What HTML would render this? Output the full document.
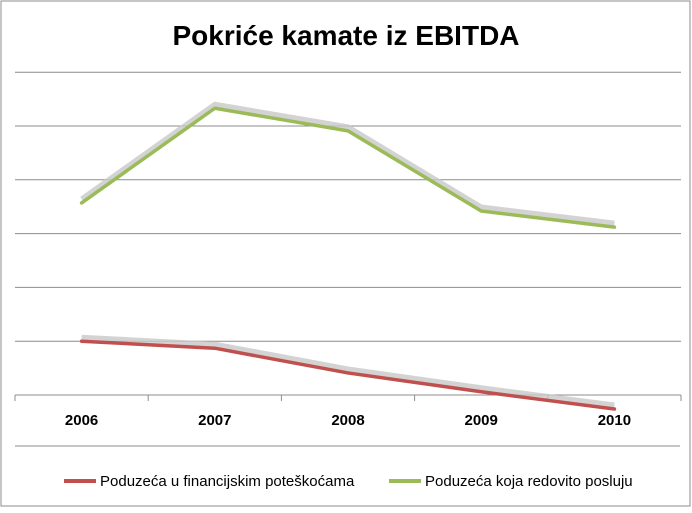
<!DOCTYPE html>
<html><head><meta charset="utf-8"><style>
body{margin:0;background:#fff}
svg text{font-family:"Liberation Sans Narrow","Liberation Sans",sans-serif}
</style></head><body>
<svg id="c" width="692" height="508" xmlns="http://www.w3.org/2000/svg">
<rect x="1" y="1" width="689" height="505" fill="#fff" stroke="#8c8c8c"/>
<text x="346" y="45" text-anchor="middle" font-size="28" font-weight="bold" fill="#000">Pokriće kamate iz EBITDA</text>
<g id="grid"></g><g id="series"></g><g id="xlabels"></g>
<line x1="15" y1="446" x2="680" y2="446" stroke="#8c8c8c"/>
<g><line x1="64" y1="481" x2="96" y2="481" stroke="#c0504d" stroke-width="4"/><text x="100" y="486" font-size="15" fill="#000">Poduzeća u financijskim poteškoćama</text></g>
<g><line x1="389" y1="481" x2="421" y2="481" stroke="#9bbb59" stroke-width="4"/><text x="425" y="486" font-size="15" fill="#000">Poduzeća koja redovito posluju</text></g>
</svg>
<script>
const categories=["2006","2007","2008","2009","2010"];
const troubled=[1.0,0.87,0.41,0.06,-0.26];
const regular=[3.57,5.33,4.91,3.42,3.12];
const gridTicks=[1,2,3,4,5,6];
const NS="http://www.w3.org/2000/svg";
const x0=15,x1=681,yZero=395,unit=53.8;
const bw=(x1-x0)/categories.length;
const xs=i=>x0+bw*(i+0.5);
const ys=v=>yZero-v*unit;
function mk(t,a,p){const e=document.createElementNS(NS,t);for(const k in a)e.setAttribute(k,a[k]);p.appendChild(e);return e;}
const g=document.getElementById('grid');
gridTicks.forEach(t=>{const l=mk('line',{x1:x0,x2:x1,y1:ys(t),y2:ys(t),stroke:'#8c8c8c'},g);

});
const ax=mk('line',{x1:x0,x2:x1,y1:yZero,y2:yZero,stroke:'#8c8c8c'},g);


for(let i=0;i<=categories.length;i++){const tk=mk('line',{x1:x0+bw*i,x2:x0+bw*i,y1:yZero,y2:yZero+6,stroke:'#8c8c8c'},g);

}
const xl=document.getElementById('xlabels');
categories.forEach((c,i)=>{const t=mk('text',{x:xs(i),y:425,'text-anchor':'middle','font-size':15,'font-weight':'bold',fill:'#000'},xl);t.textContent=c;

});
const s=document.getElementById('series');
function line(vals,col,name){
const pts=vals.map((v,i)=>xs(i)+','+ys(v)).join(' ');
const sh=mk('polyline',{points:vals.map((v,i)=>xs(i)+','+(ys(v)-4)).join(' '),fill:'none',stroke:'#c8c8c8','stroke-width':5,'stroke-linejoin':'round',opacity:0.8},s);


const p=mk('polyline',{points:pts,fill:'none',stroke:col,'stroke-width':3.5,'stroke-linejoin':'round','stroke-linecap':'round'},s);

}
line(regular,'#9bbb59','series-regular');
line(troubled,'#c0504d','series-troubled');
</script>
</body></html>
